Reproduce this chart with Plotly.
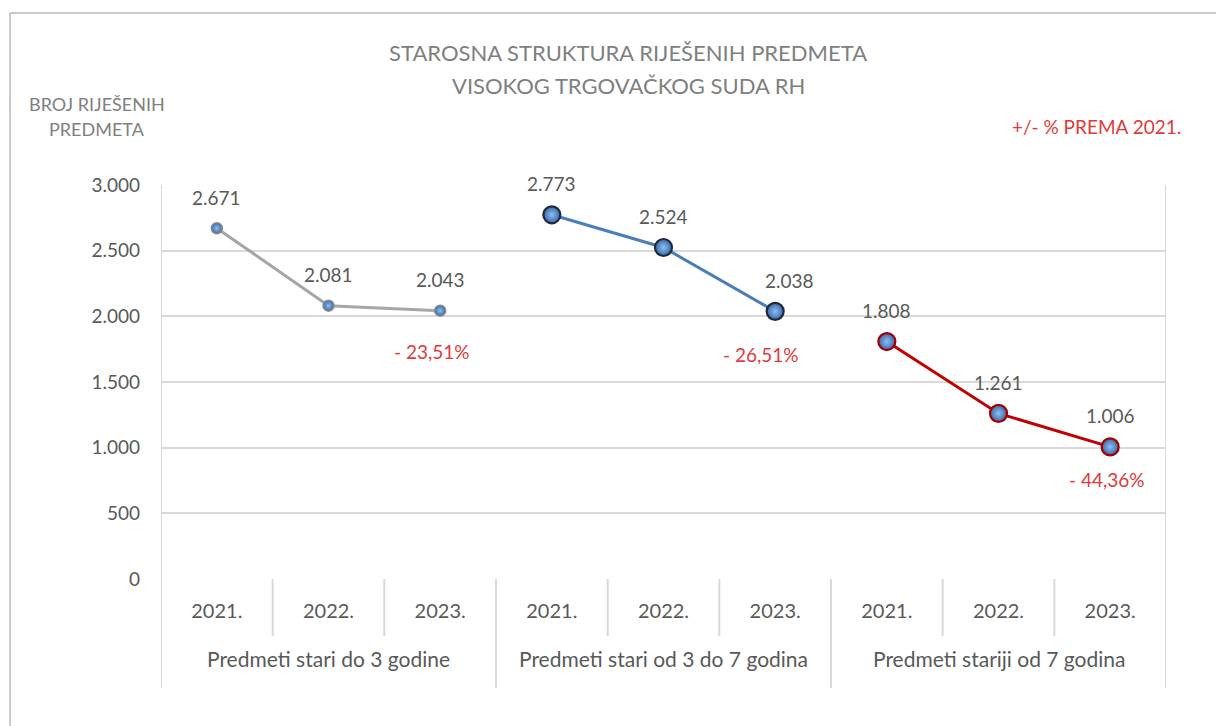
import plotly.graph_objects as go

# ---- data ----
groups = ["Predmeti stari do 3 godine", "Predmeti stari od 3 do 7 godina", "Predmeti stariji od 7 godina"]
years = ["2021.", "2022.", "2023."]
values_do3 = [2671, 2081, 2043]
values_3do7 = [2773, 2524, 2038]
values_preko7 = [1808, 1261, 1006]
pct_labels = ["- 23,51%", "- 26,51%", "- 44,36%"]
y_ticks = [0, 500, 1000, 1500, 2000, 2500, 3000]

W, H = 1216, 726
L, R, T, B = 161, 50, 185, 147
PW, PH = W - L - R, H - T - B


def px(x):
    return (x - L) / PW


def py(y):
    return (H - B - y) / PH


def fmt(v):
    return f"{v:,}".replace(",", ".")


FONT = "Lato"
GRAY_TXT = "#595959"
RED_TXT = "#e03a3a"
GRID = "#d9d9d9"

series = [
    dict(vals=values_do3, line="#a6a6a6", lw=3, msize=11, mline="#8a8a8a", mlw=1.5),
    dict(vals=values_3do7, line="#4a7ebb", lw=3, msize=17, mline="#1c2a3a", mlw=2.2),
    dict(vals=values_preko7, line="#c00000", lw=3, msize=17, mline="#a00000", mlw=2.2),
]

fig = go.Figure()
for g, s in enumerate(series):
    xs = [3 * g + j for j in range(len(years))]
    fig.add_trace(go.Scatter(
        x=xs, y=s["vals"], mode="lines+markers",
        line=dict(color=s["line"], width=s["lw"]),
        marker=dict(size=s["msize"], color="#3a68a8",
                    gradient=dict(type="radial", color="#8cbff2"),
                    line=dict(color=s["mline"], width=s["mlw"])),
        hoverinfo="skip", showlegend=False,
    ))

annotations = []
# value labels
label_xshift = {5: 14}
pct_xshift = [-8, -14, -3]
pct_yshift = [-41, -43, -33]
for g, s in enumerate(series):
    for j, v in enumerate(s["vals"]):
        xi = 3 * g + j
        annotations.append(dict(
            x=xi, y=v, xref="x", yref="y", text=fmt(v), showarrow=False,
            yshift=31, xshift=label_xshift.get(xi, 0), xanchor="center",
            font=dict(family=FONT, size=19, color=GRAY_TXT),
        ))
    last = s["vals"][-1]
    annotations.append(dict(
        x=3 * g + 2, y=last, xref="x", yref="y", text=pct_labels[g], showarrow=False,
        yshift=pct_yshift[g], xshift=pct_xshift[g], xanchor="center",
        font=dict(family=FONT, size=19, color=RED_TXT),
    ))

# group labels
for g, name in enumerate(groups):
    annotations.append(dict(
        x=3 * g + 1, y=py(658), xref="x", yref="paper", text=name, showarrow=False,
        xanchor="center", yanchor="middle", font=dict(family=FONT, size=21, color=GRAY_TXT),
    ))

# titles
annotations += [
    dict(x=px(628), y=py(52), xref="paper", yref="paper", showarrow=False,
         xanchor="center", yanchor="middle",
         text="STAROSNA STRUKTURA RIJEŠENIH PREDMETA",
         font=dict(family=FONT, size=22, color="#7f7f7f")),
    dict(x=px(628), y=py(86), xref="paper", yref="paper", showarrow=False,
         xanchor="center", yanchor="middle",
         text="VISOKOG TRGOVAČKOG SUDA RH",
         font=dict(family=FONT, size=22, color="#7f7f7f")),
    dict(x=px(97), y=py(104), xref="paper", yref="paper", showarrow=False,
         xanchor="center", yanchor="middle",
         text="BROJ RIJEŠENIH", font=dict(family=FONT, size=18, color="#808080")),
    dict(x=px(97), y=py(129), xref="paper", yref="paper", showarrow=False,
         xanchor="center", yanchor="middle",
         text="PREDMETA", font=dict(family=FONT, size=18, color="#808080")),
    dict(x=px(1096), y=py(126), xref="paper", yref="paper", showarrow=False,
         xanchor="center", yanchor="middle",
         text="+/- % PREMA 2021.", font=dict(family=FONT, size=19, color=RED_TXT)),
]

shapes = []
n = len(groups) * len(years)
# category dividers
for b in range(n + 1):
    xb = b - 0.5
    long = (b % len(years) == 0)
    shapes.append(dict(type="line", xref="x", yref="paper", x0=xb, x1=xb,
                       y0=1 if b in (0, n) else 0, y1=py(688) if long else py(636),
                       line=dict(color=GRID, width=2)))
# outer chart border (top and left)
shapes.append(dict(type="line", xref="paper", yref="paper", x0=px(10), x1=px(1230),
                   y0=py(13), y1=py(13), line=dict(color="#c8c8c8", width=2)))
shapes.append(dict(type="line", xref="paper", yref="paper", x0=px(10), x1=px(10),
                   y0=py(13), y1=py(740), line=dict(color="#c8c8c8", width=2)))

fig.update_layout(
    width=W, height=H, margin=dict(l=L, r=R, t=T, b=B),
    paper_bgcolor="white", plot_bgcolor="white",
    separators=",.",
    annotations=annotations, shapes=shapes,
    xaxis=dict(range=[-0.5, n - 0.5], tickvals=list(range(n)),
               ticktext=years * len(groups), showgrid=False, zeroline=False,
               showline=False, ticks="", ticklabelstandoff=18,
               tickfont=dict(family=FONT, size=20, color=GRAY_TXT), fixedrange=True),
    yaxis=dict(range=[0, 3000], tickvals=y_ticks, tickformat=",d",
               showgrid=True, gridcolor=GRID, gridwidth=2, zeroline=False,
               showline=False, ticks="", ticklabelstandoff=20,
               tickfont=dict(family=FONT, size=19, color=GRAY_TXT), fixedrange=True),
)

fig.write_html("out.html")
